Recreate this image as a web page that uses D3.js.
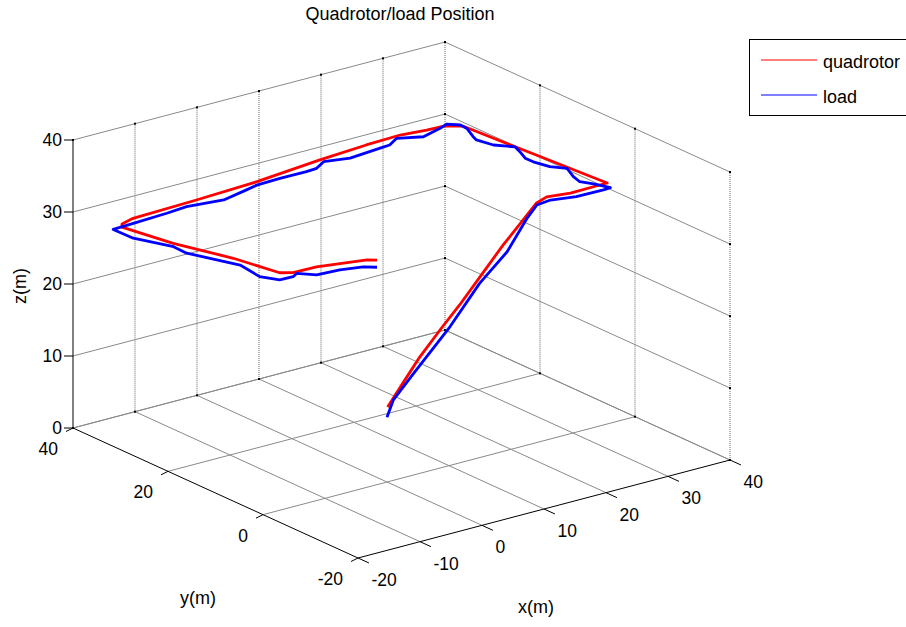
<!DOCTYPE html>
<html>
<head>
<meta charset="utf-8">
<script src="https://cdn.jsdelivr.net/npm/d3@7"></script>
<style>
  body { margin: 0; background: #fff; }
  text { font-family: "Liberation Sans", Arial, sans-serif; fill: #000; }
</style>
</head>
<body>
<svg id="chart" width="906" height="627"></svg>
<script>
// ticks
var xTicks = [-20, -10, 0, 10, 20, 30, 40];
var yTicks = [-20, 0, 20, 40];
var zTicks = [0, 10, 20, 30, 40];

// quadrotor path (m)
var quadX = [0.1, 3.2, 6.5, 10.4, 13.7, 17.5, 21.7, 25.3, 27.8, 30.2, 33.5, 38.3, 39.5, 38.5, 37.5, 35.7,
             32.9, 29.1, 23.4, 15.3, 4.0, -6.3, -16.9, -19.3, -20.0, -18.4, -15.6, -14.1, -12.7, -9.0, -2.3, -1.3];
var quadY = [0.0, 0.8, 1.6, 2.1, 2.6, 3.3, 3.9, 4.4, 4.8, 5.8, 5.1, 5.2, 5.2, 19.1, 33.0, 34.4,
             34.6, 35.2, 34.9, 34.1, 32.6, 31.9, 31.4, 30.6, 29.7, 21.0, 12.0, 4.2, 3.2, 3.1, 1.2, 0.4];
var quadZ = [10.4, 12.8, 15.4, 18.4, 20.7, 23.5, 26.8, 29.3, 31, 31, 31, 31, 31, 31, 31, 31,
             31, 31, 31, 31, 31, 31, 31, 31, 31, 31, 31, 31, 31, 31, 31, 31];

// load path (m)
var loadX = [0, 1.8, 5.6, 12.4, 18.0, 22.9, 27.1, 29.0, 31.5, 34.9, 39.2, 40.4, 39.5, 38.6, 39.1, 40.3,
             38.9, 38.3, 38.3, 39.2, 39.8, 38.0, 37.4, 37.8, 39.0, 39.1, 37.9, 36.3, 32.7, 29.6, 27.4, 25.7,
             20.4, 16.9, 14.7, 12.9, 8.7, 4.8, 2.7, -1.9, -7.2, -10.7, -16.4, -19.8,
             -19.7, -17.5, -17.6, -14.8, -15.4, -14.1, -12.0, -10.9, -9.2, -5.7, -2.6, -1.3];
var loadY = [0, 1.0, 1.7, 2.9, 4.0, 4.6, 5.9, 6.3, 6.7, 5.7, 5.6, 5.7, 8.1, 9.8, 11.8, 14.7,
             16.5, 19.2, 20.9, 23.2, 25.0, 27.2, 30.0, 31.2, 34.1, 35.6, 36.9, 36.2, 35.0, 36.6, 35.2, 35.0,
             34.4, 35.4, 34.0, 33.8, 33.9, 33.7, 33.1, 31.9, 32.8, 32.4, 32.0, 31.8,
             27.7, 22.1, 19.2, 11.6, 6.7, 4.2, 4.1, 4.8, 2.8, 2.5, 1.6, 0.4];
var loadZ = [9, 10.7, 13.3, 17.9, 22.3, 25.4, 28.7, 30, 30, 30, 30, 30, 30, 30, 30, 30,
             30, 30, 30, 30, 30, 30, 30, 30, 30, 30, 30, 30, 30, 30, 30, 30,
             30, 30, 30, 30, 30, 30, 30, 30, 30, 30, 30, 30,
             30, 30, 30, 30, 30, 30, 30, 30, 30, 30, 30, 30];

var svg = d3.select("#chart");

// 3d box: fractions along each axis, then screen vectors
var sx = d3.scaleLinear().domain([-20, 40]).range([0, 1]);
var sy = d3.scaleLinear().domain([-20, 40]).range([0, 1]);
var sz = d3.scaleLinear().domain([0, 40]).range([0, -288]);
var origin = [358, 558], vx = [372, -98], vy = [-285, -130];

function proj(x, y, z) {
    var a = sx(x), b = sy(y);
    return [origin[0] + a * vx[0] + b * vy[0], origin[1] + a * vx[1] + b * vy[1] + sz(z)];
}

function seg(p, q, stroke, dash, w) {
    var a = proj(p[0], p[1], p[2]), b = proj(q[0], q[1], q[2]);
    svg.append("line")
        .attr("x1", a[0]).attr("y1", a[1]).attr("x2", b[0]).attr("y2", b[1])
        .attr("stroke", stroke).attr("stroke-width", w || 1)
        .attr("stroke-dasharray", dash || null);
}

// floor grid
xTicks.forEach(function (x) { if (x > -20) seg([x, -20, 0], [x, 40, 0], "#8a8a8a"); });
yTicks.forEach(function (y) { if (y > -20) seg([-20, y, 0], [40, y, 0], "#8a8a8a"); });
// back wall y=40
xTicks.forEach(function (x) { if (x > -20) seg([x, 40, 0], [x, 40, 40], "#666", "1,1"); });
zTicks.forEach(function (z) { seg([-20, 40, z], [40, 40, z], "#8a8a8a"); });
// back wall x=40
yTicks.forEach(function (y) { if (y < 40) seg([40, y, 0], [40, y, 40], "#666", "1,1"); });
zTicks.forEach(function (z) { seg([40, -20, z], [40, 40, z], "#8a8a8a"); });

// axis lines
seg([-20, -20, 0], [40, -20, 0], "#000");
seg([-20, -20, 0], [-20, 40, 0], "#000");
seg([-20, 40, 0], [-20, 40, 40], "#000");

// little tick marks on far edges
function dot(p) {
    var a = proj(p[0], p[1], p[2]);
    svg.append("rect").attr("x", a[0] - 1).attr("y", a[1] - 1).attr("width", 2).attr("height", 2).attr("fill", "#000");
}
xTicks.forEach(function (x) { dot([x, 40, 40]); dot([x, 40, 0]); });
yTicks.forEach(function (y) { dot([40, y, 40]); dot([40, y, 0]); });
zTicks.forEach(function (z) { dot([40, -20, z]); dot([40, 40, z]); });

// x ticks and labels
xTicks.forEach(function (x) {
    seg([x, -20, 0], [x, -22.3, 0], "#000");
    var a = proj(x, -20, 0);
    svg.append("text").attr("x", a[0] + 13.5).attr("y", a[1] + 22).attr("dy", "0.35em")
        .attr("font-size", 17.5).text(x);
});
// y ticks and labels
yTicks.forEach(function (y) {
    var a = proj(-20, y, 0);
    svg.append("line").attr("x1", a[0]).attr("y1", a[1]).attr("x2", a[0] - 7).attr("y2", a[1] + 3.5)
        .attr("stroke", "#000");
    svg.append("text").attr("x", a[0] - 15).attr("y", a[1] + 21).attr("dy", "0.35em")
        .attr("text-anchor", "end").attr("font-size", 17.5).text(y);
});
// z ticks and labels
zTicks.forEach(function (z) {
    var a = proj(-20, 40, z);
    svg.append("line").attr("x1", a[0]).attr("y1", a[1]).attr("x2", a[0] - 9).attr("y2", a[1])
        .attr("stroke", "#000");
    svg.append("text").attr("x", a[0] - 11).attr("y", a[1]).attr("dy", "0.35em")
        .attr("text-anchor", "end").attr("font-size", 17.5).text(z);
});

// paths
var line = d3.line().x(function (d) { return d[0]; }).y(function (d) { return d[1]; });
var quadPts = quadX.map(function (x, i) { return proj(x, quadY[i], quadZ[i]); });
var loadPts = loadX.map(function (x, i) { return proj(x, loadY[i], loadZ[i]); });

svg.append("path").attr("d", line(quadPts)).attr("fill", "none")
    .attr("stroke", "#ff0000").attr("stroke-width", 2.8).attr("stroke-linejoin", "round");
svg.append("path").attr("d", line(loadPts)).attr("fill", "none")
    .attr("stroke", "#0000ff").attr("stroke-width", 2.8).attr("stroke-linejoin", "round");

// labels
svg.append("text").attr("x", 400).attr("y", 20).attr("text-anchor", "middle")
    .attr("font-size", 18).text("Quadrotor/load Position");
svg.append("text").attr("x", 536).attr("y", 607).attr("dy", "0.35em").attr("text-anchor", "middle")
    .attr("font-size", 18).text("x(m)");
svg.append("text").attr("x", 198).attr("y", 598).attr("dy", "0.35em").attr("text-anchor", "middle")
    .attr("font-size", 18).text("y(m)");
svg.append("text").attr("transform", "translate(20,286) rotate(-90)").attr("dy", "0.35em")
    .attr("text-anchor", "middle").attr("font-size", 18).text("z(m)");

// legend
var legend = svg.append("g");
legend.append("rect").attr("x", 749.5).attr("y", 39.5).attr("width", 170).attr("height", 76)
    .attr("fill", "#fff").attr("stroke", "#000");
var names = ["quadrotor", "load"], colors = ["#ff0000", "#0000ff"];
names.forEach(function (n, i) {
    var yy = 60 + i * 35;
    legend.append("line").attr("x1", 761).attr("x2", 817).attr("y1", yy).attr("y2", yy)
        .attr("stroke", colors[i]).attr("stroke-width", 1.2);
    legend.append("text").attr("x", 823).attr("y", yy + 1.5).attr("dy", "0.35em")
        .attr("font-size", 18).text(n);
});
</script>
</body>
</html>
